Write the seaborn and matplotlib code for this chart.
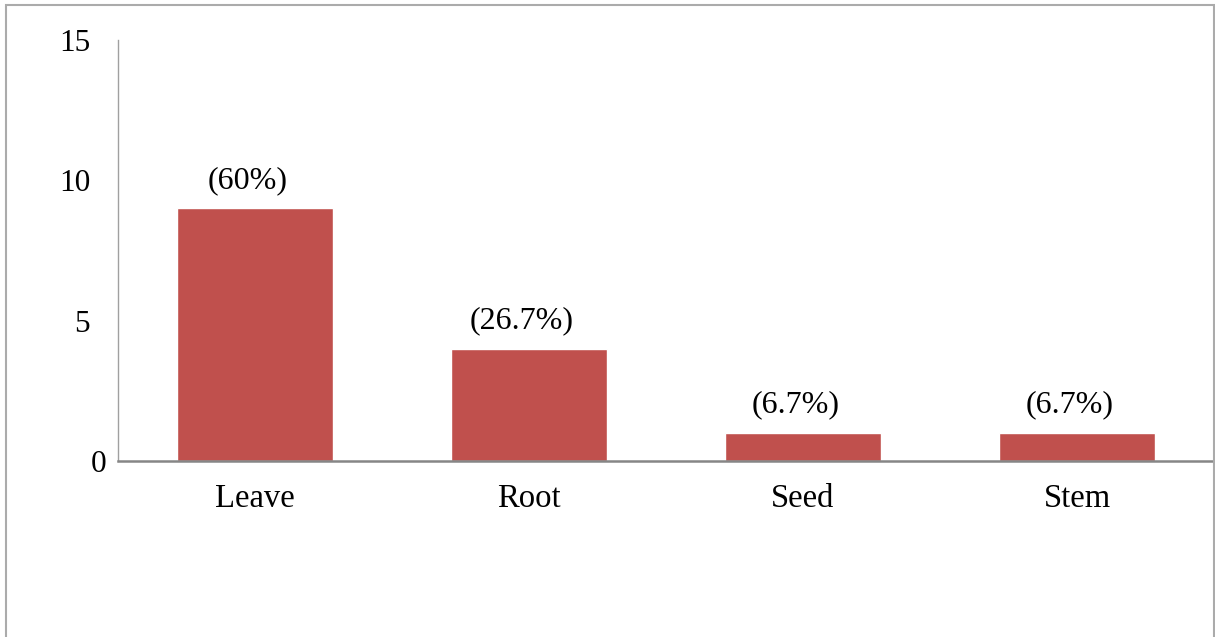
import matplotlib
matplotlib.use("Agg")
import matplotlib.pyplot as plt
import matplotlib.patches as mpatches
import matplotlib.transforms as mtransforms
import seaborn as sns
import pandas as pd

# Plant parts used and number of records for each
parts = ["Leave", "Root", "Seed", "Stem"]
counts = [9, 4, 1, 1]
y_ticks = [0, 5, 10, 15]

BAR_COLOR = "#C0504D"
AXIS_COLOR = "#868686"
FONT = ["Liberation Serif", "DejaVu Serif"]

sns.set_theme(style="white")
plt.rcParams["font.family"] = FONT

df = pd.DataFrame({"part": parts, "count": counts})

fig = plt.figure(figsize=(12.15, 6.37), dpi=100)
ax = fig.add_axes([118 / 1215, 1 - 461 / 637, (1214 - 118) / 1215, (461 - 40) / 637])

sns.barplot(data=df, x="part", y="count", color=BAR_COLOR, saturation=1,
            width=0.57, ax=ax)

ax.set_xlim(-0.5, len(parts) - 0.5)
ax.set_ylim(0, 15)
ax.set_yticks(y_ticks)
ax.set_yticklabels([str(t) for t in y_ticks])
ax.set_xlabel("")
ax.set_ylabel("")

for side in ["top", "right"]:
    ax.spines[side].set_visible(False)
ax.spines["left"].set_color("#A0A0A0")
ax.spines["left"].set_linewidth(1.0)
ax.spines["bottom"].set_color(AXIS_COLOR)
ax.spines["bottom"].set_linewidth(1.8)
ax.spines["bottom"].set_zorder(5)

ax.tick_params(axis="y", length=0, labelsize=22.5, colors="black", pad=20)
ax.tick_params(axis="x", length=0, labelsize=23.5, colors="black", pad=16)

# the zero label sits closer to the axis
zero_label = ax.get_yticklabels()[0]
zero_label.set_transform(zero_label.get_transform() +
                         mtransforms.ScaledTranslation(16 / 100, 0, fig.dpi_scale_trans))

total = sum(counts)
for i, c in enumerate(counts):
    pct = round(c / total * 100, 1)
    txt = f"({pct:g}%)"
    ax.annotate(txt, xy=(i, c), xytext=(-5, 20), textcoords="offset points",
                ha="center", va="center", fontsize=23, color="black")

# outer frame around the chart area
frame = mpatches.Rectangle((6 / 1215, -0.05), (1214 - 6) / 1215, 1 - 5 / 637 + 0.05,
                           transform=fig.transFigure, fill=False,
                           edgecolor="#ABABAB", linewidth=1.5, clip_on=False)
fig.patches.append(frame)

fig.savefig("out.png", dpi=100)
